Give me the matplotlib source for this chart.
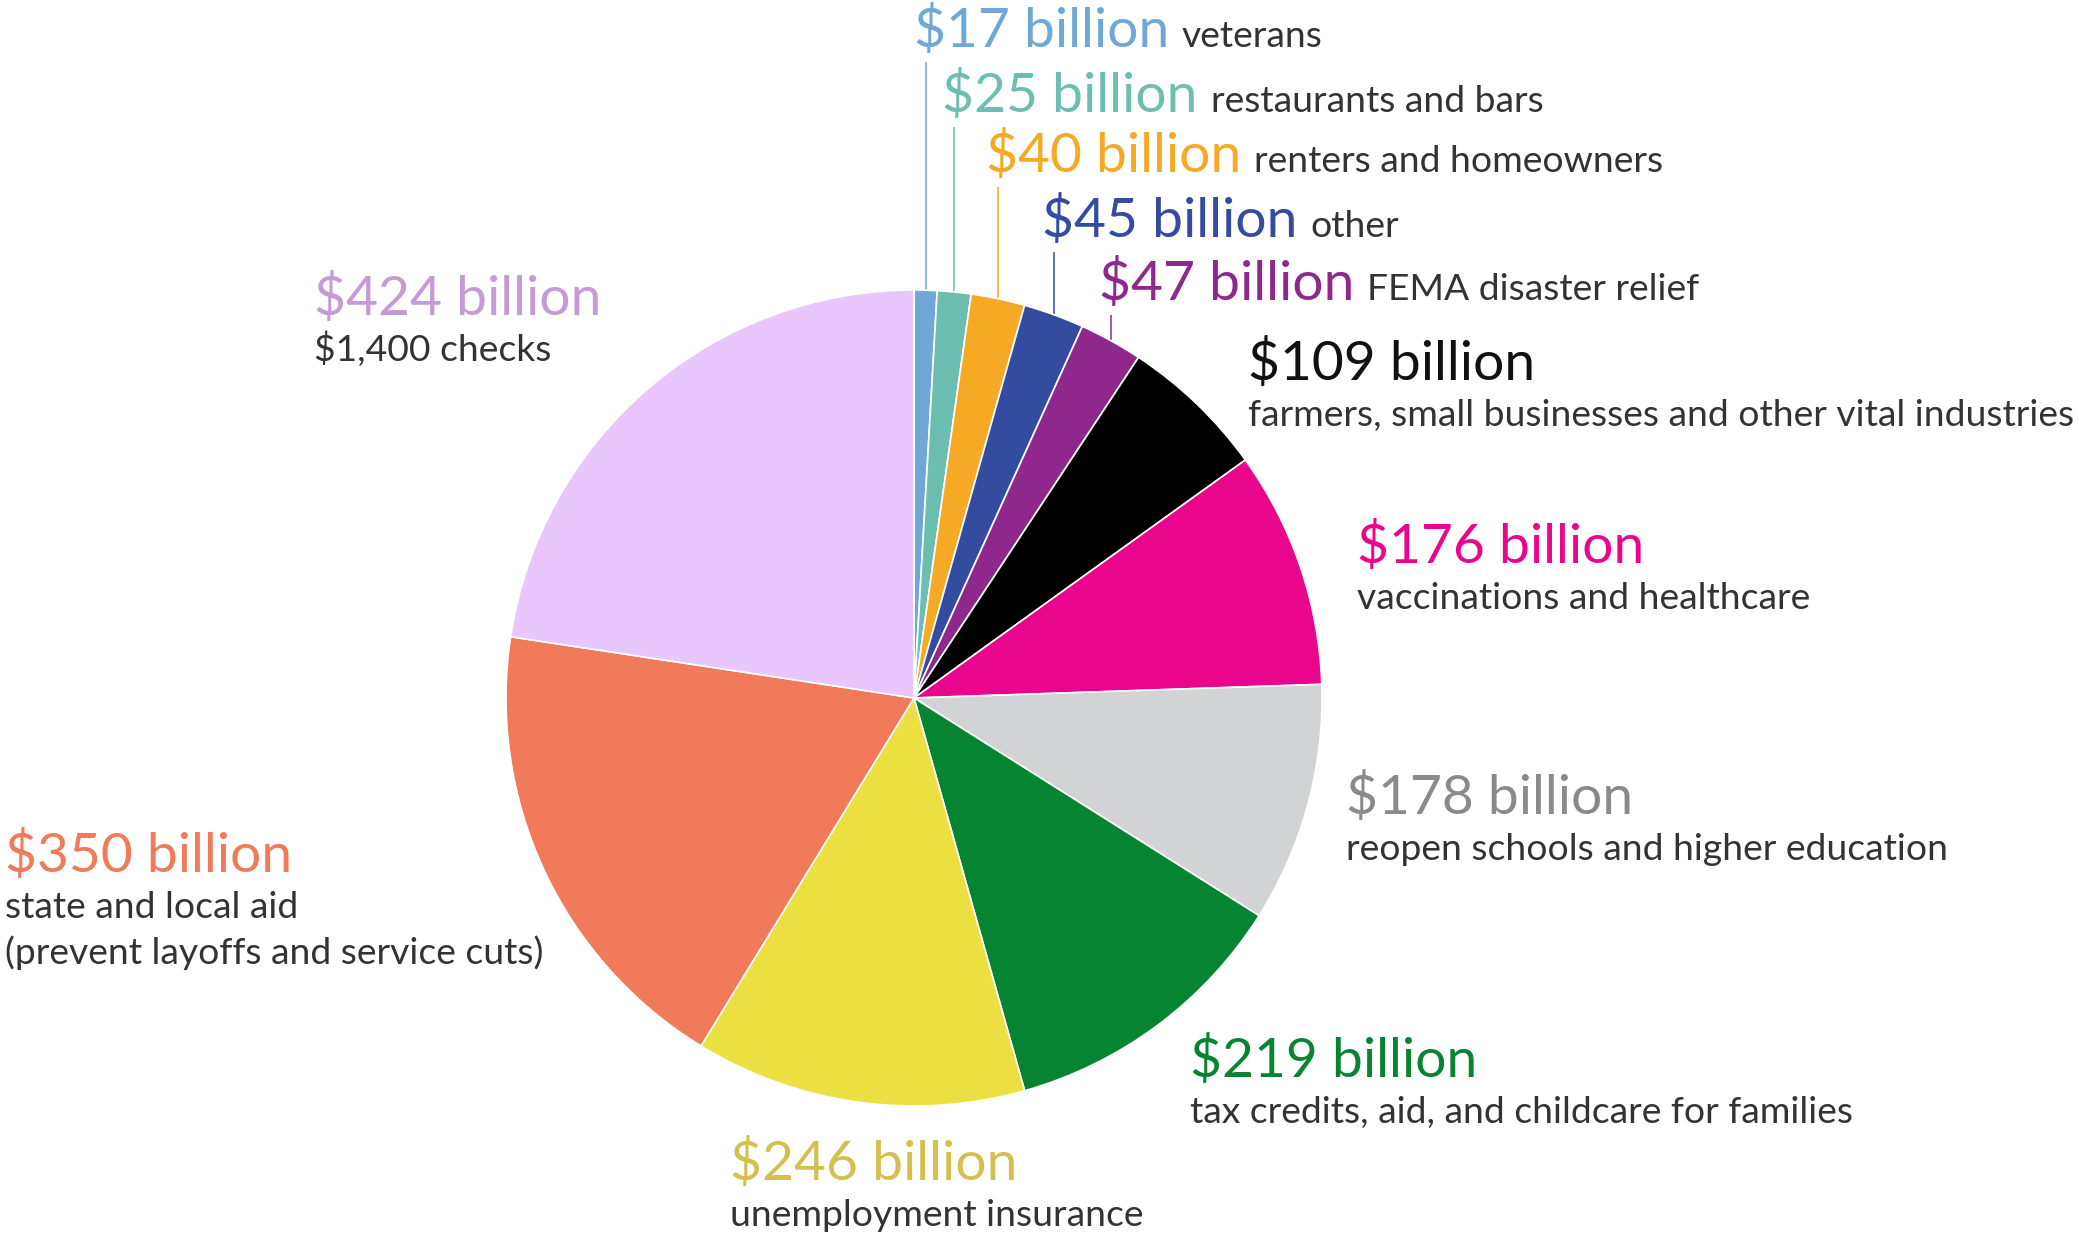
import numpy as np
import matplotlib
matplotlib.use("Agg")
import matplotlib.pyplot as plt

W, H = 2079, 1237

# American Rescue Plan spending, $ billion, clockwise from 12 o'clock
amounts = [17, 25, 40, 45, 47, 109, 176, 178, 219, 246, 350, 424]
purposes = [
    "veterans",
    "restaurants and bars",
    "renters and homeowners",
    "other",
    "FEMA disaster relief",
    "farmers, small businesses and other vital industries",
    "vaccinations and healthcare",
    "reopen schools and higher education",
    "tax credits, aid, and childcare for families",
    "unemployment insurance",
    "state and local aid\n(prevent layoffs and service cuts)",
    "$1,400 checks",
]
wedge_colors = ["#6fa8d6", "#6cbfb0", "#f6a924", "#344c9f", "#8e288c", "#000000",
                "#ea068c", "#d1d3d4", "#078432", "#ecdf41", "#f07a59", "#e9c6fc"]
label_colors = ["#6fa8d6", "#6cbfb0", "#f6a924", "#344c9f", "#8e288c", "#111111",
                "#ea068c", "#8a8a8a", "#078432", "#d4c04e", "#f07a59", "#c49bd8"]

# layout (pixel coordinates, y measured downward)
CX, CY, R = 914, 698, 408
N_TOP = 5  # small slices labelled on one line above the pie, with leader lines
top_baselines = [47, 112, 172, 237, 300]
side_labels = {5: (1248, 380), 6: (1357, 563), 7: (1346, 814), 8: (1190, 1077),
               9: (730, 1180), 10: (5, 872), 11: (314, 315)}
BIG, SMALL = 39.7, 26.8
DESC_COLOR = "#333333"
FONT = ["Lato", "DejaVu Sans"]

fig = plt.figure(figsize=(W / 100, H / 100), dpi=100)
ax = fig.add_axes([0, 0, 1, 1])

# y axis runs downward, so counterclock=True here turns clockwise on screen
ax.pie(amounts, colors=wedge_colors, center=(CX, CY), radius=R,
       startangle=-90, counterclock=True,
       wedgeprops=dict(edgecolor="white", linewidth=1.2))
ax.set_xlim(0, W)
ax.set_ylim(H, 0)
ax.set_aspect("equal")
ax.axis("off")

total = sum(amounts)
cum = np.cumsum([0] + amounts[:-1])
mid_angles = np.deg2rad((cum + np.array(amounts) / 2) / total * 360)

fig.canvas.draw()
renderer = fig.canvas.get_renderer()

for i, (amt, desc) in enumerate(zip(amounts, purposes)):
    value_txt = f"${amt} billion"
    if i < N_TOP:
        lx = CX + R * np.sin(mid_angles[i])
        ly = CY - R * np.cos(mid_angles[i])
        base = top_baselines[i]
        ax.plot([lx, lx], [base + 15, ly], color=wedge_colors[i], lw=1.1,
                solid_capstyle="butt", zorder=0)
        t = ax.text(lx - 12, base, value_txt, color=label_colors[i],
                    fontsize=BIG, family=FONT, va="baseline", ha="left")
        bb = t.get_window_extent(renderer)
        ax.text(bb.x1 + 13, base, desc, color=DESC_COLOR, fontsize=SMALL,
                family=FONT, va="baseline", ha="left")
    else:
        x, base = side_labels[i]
        ax.text(x, base, value_txt, color=label_colors[i], fontsize=BIG,
                family=FONT, va="baseline", ha="left")
        for k, line in enumerate(desc.split("\n")):
            ax.text(x, base + 46 + 46 * k, line, color=DESC_COLOR,
                    fontsize=SMALL, family=FONT, va="baseline", ha="left")

fig.savefig("out.png", dpi=100, facecolor="white")
